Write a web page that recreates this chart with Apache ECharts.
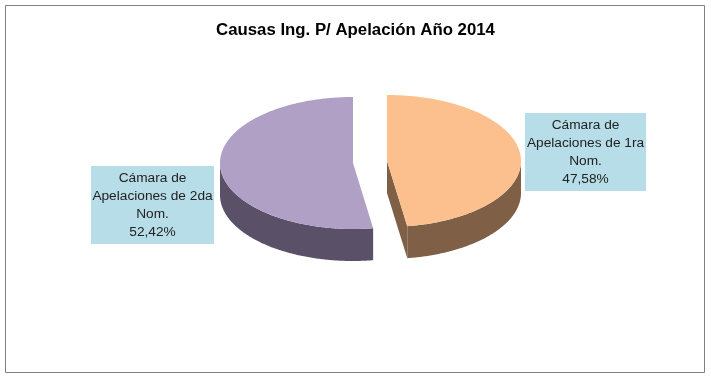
<!DOCTYPE html>
<html>
<head>
<meta charset="utf-8">
<style>html,body{margin:0;padding:0;background:#fff}#c{width:711px;height:384px}</style>
<script src="https://cdn.jsdelivr.net/npm/echarts@6/dist/echarts.min.js"></script>
</head>
<body>
<div id="c"></div>
<script>
const chartTitle = 'Causas Ing. P/ Apelación Año 2014';
const categories = ['Cámara de\nApelaciones de 1ra\nNom.', 'Cámara de\nApelaciones de 2da\nNom.'];
const values = [47.58, 52.42];
const topColors = ['#FBC08E', '#B0A0C5'];
const wallColors = ['#7F6046', '#5A5068'];

const FONT = '"Liberation Sans", Arial, sans-serif';
const RX = [134, 133], RY = 66, DEPTH = 32;
const APEX = [[387, 161], [353, 163]];
const BOX = [[525, 113, 121, 78], [91, 166, 123, 78]];

const total = values.reduce((a, b) => a + b, 0);
function rim(c, rx, t, dy) {
  return [c[0] + rx * Math.sin(t), c[1] - RY * Math.cos(t) + (dy || 0)];
}
function arc(c, rx, a, b, dy) {
  const pts = [], n = Math.max(2, Math.ceil(Math.abs(b - a) * 90));
  for (let i = 0; i <= n; i++) pts.push(rim(c, rx, a + (b - a) * i / n, dy));
  return pts;
}
function renderItem(params, api) {
  const i = params.dataIndex;
  let start = 0;
  for (let k = 0; k < i; k++) start += values[k];
  const a = start / total * Math.PI * 2;
  const b = (start + values[i]) / total * Math.PI * 2;
  const c = APEX[i], rx = RX[i];
  const children = [];
  // outer wall: only the part of the rim facing the viewer
  const wa = Math.max(a, Math.PI / 2), wb = Math.min(b, Math.PI * 1.5);
  if (wb > wa) {
    children.push({
      type: 'polygon',
      shape: { points: arc(c, rx, wa, wb, 0).concat(arc(c, rx, wb, wa, DEPTH)) },
      style: { fill: wallColors[i] }
    });
  }
  // cut face at the trailing edge, visible when it faces the viewer
  if (b < Math.PI) {
    const r = rim(c, rx, b);
    children.push({
      type: 'polygon',
      shape: { points: [c, r, [r[0], r[1] + DEPTH], [c[0], c[1] + DEPTH]] },
      style: { fill: wallColors[i] }
    });
  }
  // top face
  children.push({
    type: 'polygon',
    shape: { points: [c].concat(arc(c, rx, a, b, 0)) },
    style: { fill: topColors[i] }
  });
  // label
  const q = BOX[i];
  children.push({
    type: 'rect',
    shape: { x: q[0], y: q[1], width: q[2], height: q[3] },
    style: { fill: '#B7DDE8' }
  });
  children.push({
    type: 'text',
    style: {
      x: q[0] + q[2] / 2, y: q[1] + q[3] / 2 + 0.5,
      text: categories[i] + '\n' + values[i].toFixed(2).replace('.', ',') + '%',
      align: 'center', verticalAlign: 'middle',
      font: '13.7px ' + FONT, lineHeight: 18, fill: '#222'
    }
  });
  return { type: 'group', children };
}

const chart = echarts.init(document.getElementById('c'), null, { renderer: 'canvas' });
chart.setOption({
  animation: false,
  backgroundColor: '#fff',
  title: {
    text: chartTitle, left: 'center', top: 17,
    textStyle: { fontFamily: FONT, fontSize: 16.8, fontWeight: 'bold', color: '#000' }
  },
  graphic: [{
    type: 'rect', silent: true,
    shape: { x: 5.5, y: 5.5, width: 699, height: 367 },
    style: { fill: 'none', stroke: '#808080', lineWidth: 1 }
  }],
  series: [{
    type: 'custom',
    coordinateSystem: 'none',
    renderItem,
    data: values.map((v, i) => ({ value: v, name: categories[i] }))
  }]
});
</script>
</body>
</html>
